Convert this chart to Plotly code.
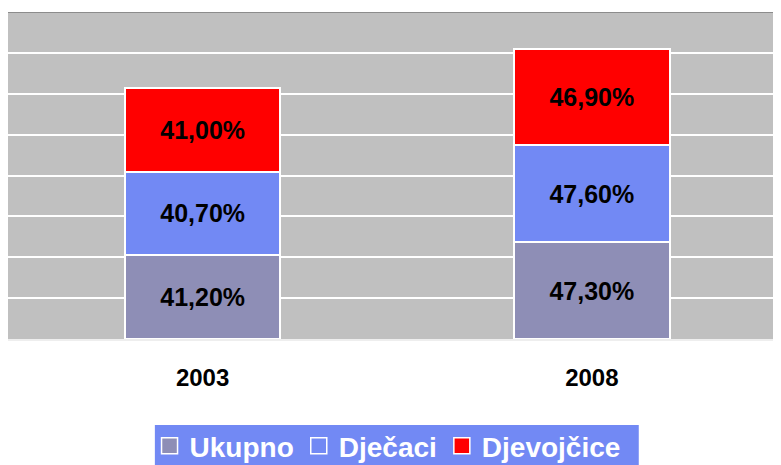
import plotly.graph_objects as go

# data
years = ["2003", "2008"]
ukupno = [41.2, 47.3]
djecaci = [40.7, 47.6]
djevojcice = [41.0, 46.9]

series = [
    ("Ukupno", ukupno, "#8E8EB6"),
    ("Dječaci", djecaci, "#7289F4"),
    ("Djevojčice", djevojcice, "#FF0000"),
]

FONT = "Liberation Sans, Arial"
LEGEND_BG = "#7289F4"


def fmt(v):
    # Croatian decimal comma
    return f"{v:.2f}".replace(".", ",") + "%"


fig = go.Figure()
for name, vals, color in series:
    fig.add_trace(go.Bar(
        x=years, y=vals, name=name, showlegend=False,
        marker=dict(color=color, line=dict(color="white", width=2)),
        text=[fmt(v) for v in vals],
        textposition="inside", insidetextanchor="middle", textangle=0,
        textfont=dict(family=FONT, size=25, color="black", weight="bold"),
        width=0.4,
    ))

# legend entries with bigger square swatches than bar legends allow
for name, vals, color in series:
    fig.add_trace(go.Scatter(
        x=[None], y=[None], name=name, mode="markers",
        marker=dict(symbol="square", size=16, color=color,
                    line=dict(color="white", width=1.5)),
    ))

# darker top border of the plot area
fig.add_shape(type="line", xref="paper", yref="y", x0=0, x1=1, y0=160, y1=160,
              line=dict(color="#8C8C8C", width=2))
# legend box drawn as a shape (tighter than plotly's legend padding)
fig.add_shape(type="rect", xref="paper", yref="paper",
              x0=0.190, x1=0.816, y0=-0.385, y1=-0.263,
              fillcolor=LEGEND_BG, line=dict(width=0))

# page body has an 8px margin, so the figure is sized to the remaining window
fig.update_layout(
    barmode="stack",
    width=773, height=457,
    margin=dict(l=0, r=0, t=4, b=126, autoexpand=False),
    paper_bgcolor="white",
    plot_bgcolor="#C0C0C0",
    font=dict(family=FONT, color="black"),
    showlegend=True,
    legend=dict(
        orientation="h", x=0.491, xanchor="center", y=-0.251, yanchor="top",
        bgcolor="rgba(0,0,0,0)", borderwidth=0,
        font=dict(family=FONT, size=28, color="white", weight="bold"),
        traceorder="normal", itemsizing="trace",
    ),
)
fig.update_xaxes(
    range=[-0.5, 1.486],
    showgrid=False, ticks="", ticklabelstandoff=16,
    tickfont=dict(size=24, weight="bold"),
    showline=True, linecolor="#EEEEEE", linewidth=2,
)
fig.update_yaxes(
    range=[0, 160], dtick=20, showticklabels=False,
    showgrid=True, gridcolor="white", gridwidth=2,
    zeroline=False, showline=True, linecolor="#EEEEEE", linewidth=2,
)

fig.write_html("out.html")
